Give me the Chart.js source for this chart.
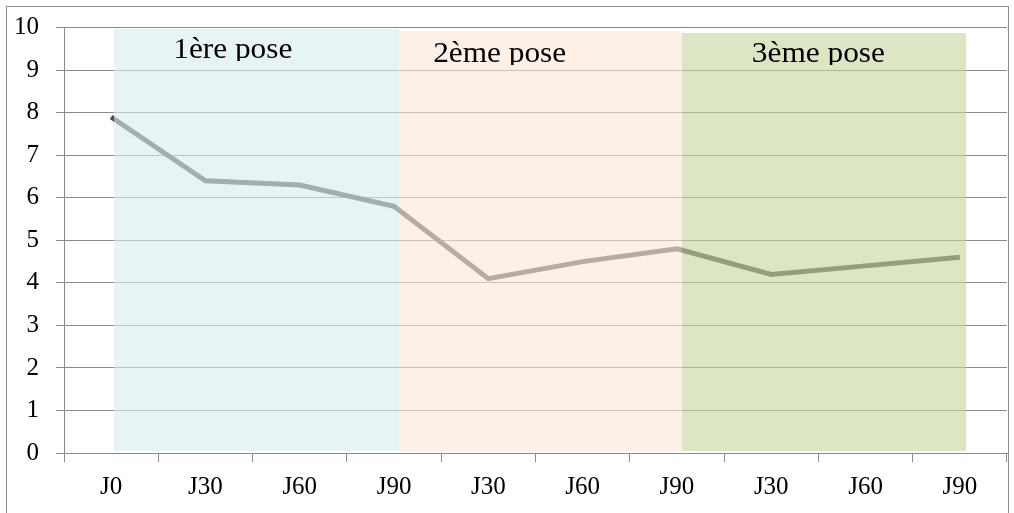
<!DOCTYPE html>
<html>
<head>
<meta charset="utf-8">
<script src="https://cdn.jsdelivr.net/npm/chart.js@4/dist/chart.umd.min.js"></script>
<style>
  html, body { margin: 0; padding: 0; background: #ffffff; }
  #wrap { position: relative; width: 1014px; height: 513px; }
  canvas { display: block; }
</style>
</head>
<body>
<div id="wrap"><canvas id="c" width="1014" height="513"></canvas></div>
<script>
// ---- data ----
const categories = ['J0', 'J30', 'J60', 'J90', 'J30', 'J60', 'J90', 'J30', 'J60', 'J90'];
const values = [7.9, 6.4, 6.3, 5.8, 4.1, 4.5, 4.8, 4.2, 4.4, 4.6];
const yTicks = [0, 1, 2, 3, 4, 5, 6, 7, 8, 9, 10];
const phaseNames = ['1ère pose', '2ème pose', '3ème pose'];
const phaseStart = [0.03, 3.05, 6.05];
const phaseEnd = [3.05, 6.05, 9.06];
const phaseTop = [9.98, 9.93, 9.88];

// ---- styles (kept separate from data) ----
const phaseFill = ['rgba(218,236,239,0.61)', 'rgba(252,232,216,0.61)', 'rgba(197,214,158,0.60)'];
const phaseTextX = [1.29, 4.12, 7.5];      // category-scale positions of labels
const phaseTextBaseline = [58, 62, 62];    // px
const phaseTextClip = [61, 65, 65];        // px
const SERIF = "'Liberation Serif', 'Times New Roman', serif";

const phasePlugin = {
  id: 'phases',
  afterDatasetsDraw(chart) {
    const { ctx } = chart;
    const xs = chart.scales.x, ys = chart.scales.y;
    ctx.save();
    for (let i = 0; i < phaseNames.length; i++) {
      const x0 = xs.getPixelForValue(phaseStart[i]);
      const x1 = xs.getPixelForValue(phaseEnd[i]);
      const y0 = ys.getPixelForValue(phaseTop[i]);
      const y1 = ys.getPixelForValue(0.05);
      ctx.fillStyle = phaseFill[i];
      ctx.fillRect(Math.round(x0), Math.round(y0), Math.round(x1) - Math.round(x0), Math.round(y1) - Math.round(y0));
    }
    for (let i = 0; i < phaseNames.length; i++) {
      const cx = xs.getPixelForValue(phaseTextX[i]);
      ctx.save();
      ctx.beginPath();
      ctx.rect(cx - 120, 0, 240, phaseTextClip[i]);
      ctx.clip();
      ctx.translate(cx, phaseTextBaseline[i]);
      ctx.scale(1.08, 1);
      ctx.font = '29px ' + SERIF;
      ctx.fillStyle = '#000000';
      ctx.textAlign = 'center';
      ctx.textBaseline = 'alphabetic';
      ctx.fillText(phaseNames[i], 0, 0);
      ctx.restore();
    }
    ctx.restore();
  },
  afterDraw(chart) {
    const { ctx } = chart;
    ctx.save();
    ctx.strokeStyle = '#8c8c8c';
    ctx.lineWidth = 1;
    ctx.strokeRect(6.5, 6.5, 1002, 520);
    ctx.restore();
  }
};

new Chart(document.getElementById('c'), {
  type: 'line',
  data: {
    labels: categories,
    datasets: [{
      data: values,
      borderColor: '#4d4d4d',
      borderWidth: 5,
      pointRadius: 0,
      tension: 0,
      fill: false,
      borderCapStyle: 'butt',
      borderJoinStyle: 'miter'
    }]
  },
  options: {
    responsive: false,
    animation: false,
    devicePixelRatio: 1,
    layout: { padding: { left: 0, top: 27.7, right: 7, bottom: 0 } },
    plugins: { legend: { display: false }, tooltip: { enabled: false } },
    scales: {
      x: {
        type: 'category',
        offset: true,
        grid: { display: true, drawOnChartArea: false, drawTicks: true, tickLength: 9, offset: true, color: '#8a8a8a', lineWidth: 1 },
        border: { display: true, color: '#8a8a8a', width: 1 },
        ticks: { color: '#000000', font: { family: SERIF, size: 25 }, padding: 10, maxRotation: 0, autoSkip: false },
        afterFit(s) { s.height = 60; s.paddingLeft = 0; s.paddingRight = 0; }
      },
      y: {
        min: 0, max: 10,
        afterBuildTicks(s) { s.ticks = yTicks.map(v => ({ value: v })); },
        grid: { display: true, drawOnChartArea: true, drawTicks: true, tickLength: 8, color: '#8a8a8a', lineWidth: 1 },
        border: { display: true, color: '#8a8a8a', width: 1 },
        ticks: { color: '#000000', font: { family: SERIF, size: 25 }, padding: 17 },
        afterFit(s) { s.width = 64; s.paddingTop = 0; s.paddingBottom = 0; }
      }
    }
  },
  plugins: [phasePlugin]
});
</script>
</body>
</html>
